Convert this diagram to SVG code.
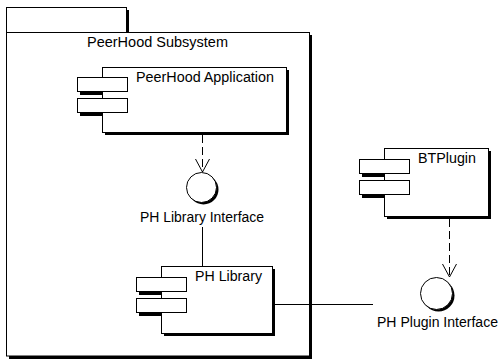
<svg xmlns="http://www.w3.org/2000/svg" width="499" height="360" viewBox="0 0 499 360">
  <style>
    .line { fill: #ffffff; stroke: #000000; stroke-width: 1; }
    .shadow { fill: #000000; stroke: none; }
    .label { font-family: "Liberation Sans", Arial, sans-serif; font-size: 14px; fill: #000000; }
    .conn { fill: none; stroke: #000000; stroke-width: 1; }
    .dep { stroke-dasharray: 8 4; }
  </style>
  <defs>
    <marker id="openV" markerUnits="userSpaceOnUse" markerWidth="16" markerHeight="16" refX="0" refY="0" orient="auto" overflow="visible">
      <path d="M -13 -7 L 0 0 L -13 7" fill="none" stroke="#000000" stroke-width="1"/>
    </marker>
  </defs>

  <rect width="499" height="360" fill="#ffffff"/>

  <!-- Package: PeerHood Subsystem -->
  <g id="peerhood-subsystem">
    <rect class="shadow" x="9" y="10" width="120" height="25"/>
    <rect class="line" x="6.5" y="7.5" width="120" height="25"/>
    <rect class="shadow" x="9" y="35" width="303" height="324"/>
    <rect class="line" x="6.5" y="32.5" width="303" height="323.5"/>
    <text class="label" x="87" y="46.5" textLength="141" lengthAdjust="spacingAndGlyphs">PeerHood Subsystem</text>
  </g>

  <!-- Component: PeerHood Application -->
  <g id="peerhood-application">
    <rect class="shadow" x="80" y="80" width="51" height="15"/>
    <rect class="shadow" x="80" y="101" width="51" height="15"/>
    <rect class="shadow" x="105" y="70" width="184" height="65"/>
    <rect class="line" x="102.5" y="67.5" width="184" height="65"/>
    <rect class="line" x="77.5" y="77.5" width="50" height="14"/>
    <rect class="line" x="77.5" y="98.5" width="50" height="14"/>
    <text class="label" x="136" y="82" textLength="138" lengthAdjust="spacingAndGlyphs">PeerHood Application</text>
  </g>

  <!-- Interface: PH Library Interface -->
  <g id="ph-library-interface">
    <circle class="shadow" cx="203.5" cy="189.5" r="15"/>
    <circle class="line" cx="201.5" cy="187.5" r="15"/>
    <text class="label" x="140" y="222" textLength="124" lengthAdjust="spacingAndGlyphs">PH Library Interface</text>
  </g>

  <!-- Component: PH Library -->
  <g id="ph-library">
    <rect class="shadow" x="139" y="280" width="51" height="15"/>
    <rect class="shadow" x="139" y="301" width="51" height="15"/>
    <rect class="shadow" x="164" y="269" width="111" height="67"/>
    <rect class="line" x="161.5" y="266.5" width="111" height="67"/>
    <rect class="line" x="136.5" y="277.5" width="50" height="14"/>
    <rect class="line" x="136.5" y="298.5" width="50" height="14"/>
    <text class="label" x="195" y="281" textLength="67" lengthAdjust="spacingAndGlyphs">PH Library</text>
  </g>

  <!-- Component: BTPlugin -->
  <g id="btplugin">
    <rect class="shadow" x="362" y="162" width="51" height="15"/>
    <rect class="shadow" x="362" y="183" width="51" height="15"/>
    <rect class="shadow" x="387" y="151" width="104" height="68"/>
    <rect class="line" x="384.5" y="148.5" width="104" height="68"/>
    <rect class="line" x="359.5" y="159.5" width="50" height="14"/>
    <rect class="line" x="359.5" y="180.5" width="50" height="14"/>
    <text class="label" x="418" y="163" textLength="58" lengthAdjust="spacingAndGlyphs">BTPlugin</text>
  </g>

  <!-- Interface: PH Plugin Interface -->
  <g id="ph-plugin-interface">
    <circle class="shadow" cx="438.5" cy="295.5" r="16"/>
    <circle class="line" cx="436.5" cy="293.5" r="16"/>
    <text class="label" x="377" y="327" textLength="121" lengthAdjust="spacingAndGlyphs">PH Plugin Interface</text>
  </g>

  <!-- Connectors -->
  <g id="connectors">
    <line class="conn dep" x1="202.5" y1="135" x2="202.5" y2="172" marker-end="url(#openV)"/>
    <line class="conn" x1="202.5" y1="227" x2="202.5" y2="266"/>
    <line class="conn" x1="275" y1="304.5" x2="373" y2="304.5"/>
    <line class="conn dep" x1="449.5" y1="219" x2="449.5" y2="277" marker-end="url(#openV)"/>
  </g>
</svg>
